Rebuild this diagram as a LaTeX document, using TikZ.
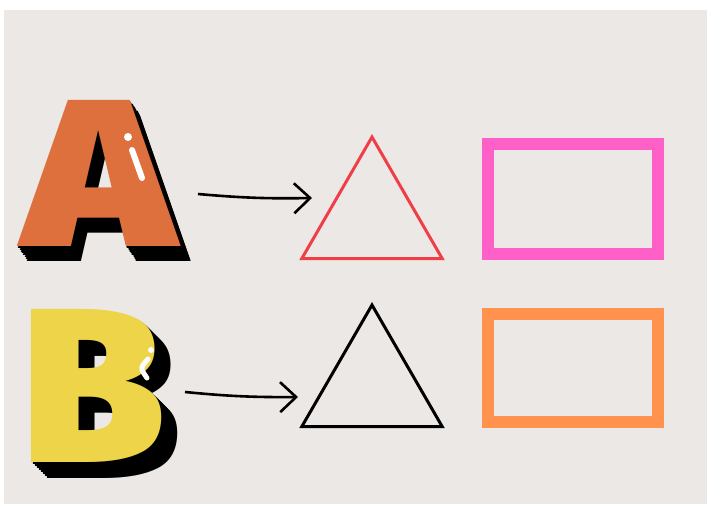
\documentclass[tikz,border=0pt]{standalone}
\usepackage{fontspec}
\newfontfamily\letterfont{Fira Sans}[UprightFont={* Black}]
\usetikzlibrary{arrows.meta, shapes.geometric}
\definecolor{mybg}{RGB}{236, 232, 229}
\definecolor{myorange}{RGB}{222, 112, 62}
\definecolor{myyellow}{RGB}{238, 212, 72}
\definecolor{myred}{RGB}{240, 62, 72}
\definecolor{mypink}{RGB}{255, 96, 200}
\definecolor{mypeach}{RGB}{255, 146, 76}

\begin{document}
\begin{tikzpicture}[
    x = 0.5pt, y = -0.5pt,
    letter/.style = {inner sep = 0pt, anchor = south west, font = \letterfont\fontsize{105}{105}\selectfont},
    tri/.style = {regular polygon, regular polygon sides = 3, minimum size = 81pt, inner sep = 0pt, line width = 1.5pt},
    box/.style = {rectangle, minimum width = 85pt, minimum height = 55pt, line width = 6pt},
    arr/.style = {line width = 1.3pt, -{Straight Barb[length = 8pt, width = 15pt]}},
    shine/.style = {white, line width = 3pt, line cap = round},
]

\fill[white] (0,0) rectangle (707,504);
\fill[mybg] (4,10) rectangle (707,504);
\useasboundingbox (0,0) rectangle (707,504);

% letters with their shadow
\foreach \k in {8,...,1}
  \node[letter, black, xscale = 1.2] (shadowA-\k) at (23+\k*1.3, 247+\k*1.8) {A};
\node[letter, myorange, xscale = 1.2] (A) at (23, 247) {A};
\fill[white] (128,137) circle (4);
\draw[shine] (132,150) -- (142,178);

\foreach \k in {8,...,1}
  \node[letter, black, xscale = 1.05, font = \letterfont\fontsize{110}{110}\selectfont] (shadowB-\k) at (21+\k*2, 463+\k*2) {B};
\node[letter, myyellow, xscale = 1.05, font = \letterfont\fontsize{110}{110}\selectfont] (B) at (21, 463) {B};
\fill[white] (151,350) circle (3);
\draw[shine, line width = 2.5pt] (148,359) .. controls (140,368) .. (147,378);

% shapes
\node[tri, draw = myred] (tri1) at (372,218) {};
\node[tri, draw = black] (tri2) at (372,386) {};

\node[box, draw = mypink] (box1) at (573,199) {};
\node[box, draw = mypeach, minimum height = 54pt] (box2) at (573,368) {};

% arrows
\coordinate (A-out) at (198,194);
\coordinate (tri1-in) at (312,198);
\coordinate (B-out) at (185,392);
\coordinate (tri2-in) at (298,397);
\draw[arr] (A-out) to[bend right = 3] (tri1-in);
\draw[arr] (B-out) to[bend right = 3] (tri2-in);

\end{tikzpicture}
\end{document}
